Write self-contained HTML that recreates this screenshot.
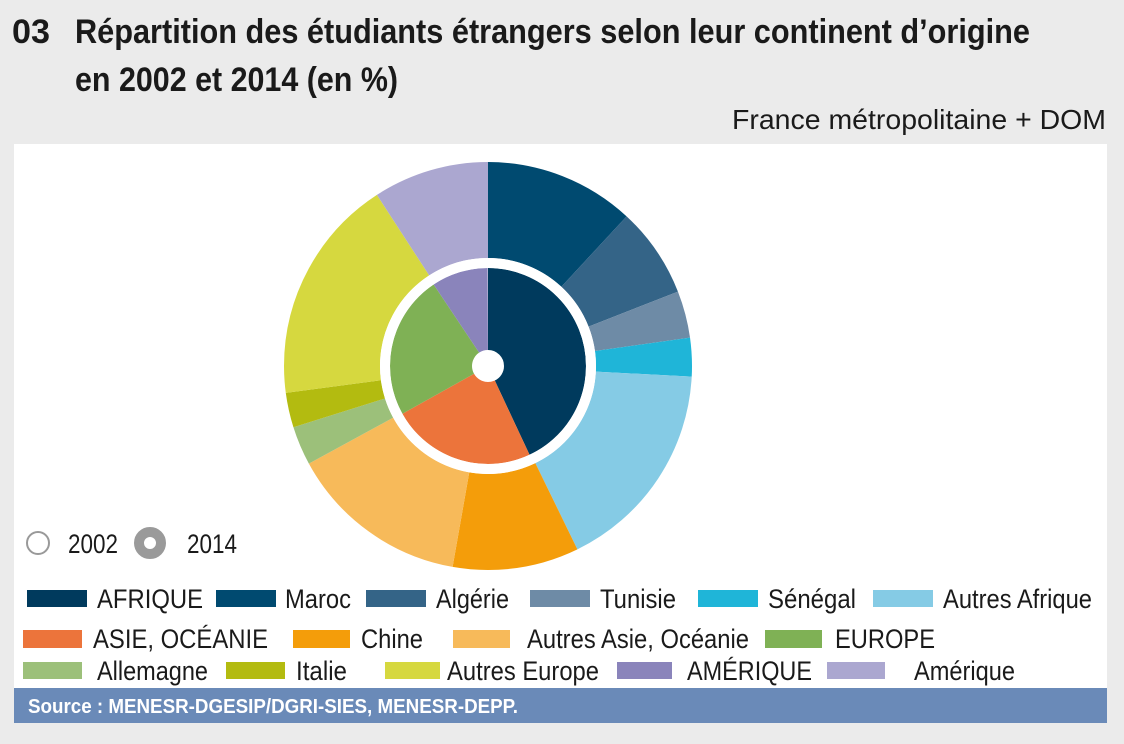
<!DOCTYPE html>
<html><head><meta charset="utf-8"><style>
html,body{margin:0;padding:0;background:#ebebeb;}
svg{display:block;font-family:"Liberation Sans",Arial,sans-serif;}
</style></head><body>
<svg width="1124" height="744" viewBox="0 0 1124 744" xmlns="http://www.w3.org/2000/svg">
<rect width="1124" height="744" fill="#ebebeb"/>
<g font-weight="bold" font-size="34" fill="#1a1a1a">
<text x="12" y="43" textLength="38" lengthAdjust="spacingAndGlyphs">03</text>
<text x="75" y="43" textLength="955" lengthAdjust="spacingAndGlyphs">Répartition des étudiants étrangers selon leur continent d’origine</text>
<text x="75" y="91" textLength="323" lengthAdjust="spacingAndGlyphs">en 2002 et 2014 (en %)</text>
</g>
<text x="732" y="129" font-size="28" fill="#1a1a1a" textLength="374" lengthAdjust="spacingAndGlyphs">France métropolitaine + DOM</text>
<rect x="14" y="144" width="1093" height="545" fill="#ffffff"/>
<g transform="rotate(-90 488 366)" fill="none">
<g stroke-width="96">
<circle cx="488" cy="366" r="156" pathLength="360" stroke="#004a70" stroke-dasharray="42.8 400" stroke-dashoffset="0"/>
<circle cx="488" cy="366" r="156" pathLength="360" stroke="#346487" stroke-dasharray="25.8 400" stroke-dashoffset="-42.8"/>
<circle cx="488" cy="366" r="156" pathLength="360" stroke="#6e8ba6" stroke-dasharray="13.4 400" stroke-dashoffset="-68.6"/>
<circle cx="488" cy="366" r="156" pathLength="360" stroke="#1fb5d8" stroke-dasharray="11 400" stroke-dashoffset="-82"/>
<circle cx="488" cy="366" r="156" pathLength="360" stroke="#85cbe5" stroke-dasharray="61 400" stroke-dashoffset="-93"/>
<circle cx="488" cy="366" r="156" pathLength="360" stroke="#f49d0a" stroke-dasharray="36 400" stroke-dashoffset="-154"/>
<circle cx="488" cy="366" r="156" pathLength="360" stroke="#f7ba5a" stroke-dasharray="51.4 400" stroke-dashoffset="-190"/>
<circle cx="488" cy="366" r="156" pathLength="360" stroke="#9cc07a" stroke-dasharray="11.1 400" stroke-dashoffset="-241.4"/>
<circle cx="488" cy="366" r="156" pathLength="360" stroke="#b3bb10" stroke-dasharray="9.9 400" stroke-dashoffset="-252.5"/>
<circle cx="488" cy="366" r="156" pathLength="360" stroke="#d6d83f" stroke-dasharray="64.6 400" stroke-dashoffset="-262.4"/>
<circle cx="488" cy="366" r="156" pathLength="360" stroke="#aba7d0" stroke-dasharray="33 400" stroke-dashoffset="-327"/>
</g>
<g stroke-width="82">
<circle cx="488" cy="366" r="57" pathLength="360" stroke="#003a5d" stroke-dasharray="155 400" stroke-dashoffset="0"/>
<circle cx="488" cy="366" r="57" pathLength="360" stroke="#ec743b" stroke-dasharray="86 400" stroke-dashoffset="-155"/>
<circle cx="488" cy="366" r="57" pathLength="360" stroke="#7fb155" stroke-dasharray="85.5 400" stroke-dashoffset="-241"/>
<circle cx="488" cy="366" r="57" pathLength="360" stroke="#8a84bb" stroke-dasharray="33.5 400" stroke-dashoffset="-326.5"/>
</g>
</g>
<circle cx="488" cy="366" r="103" fill="none" stroke="#fff" stroke-width="10"/>
<circle cx="38" cy="543" r="11" fill="#fff" stroke="#999" stroke-width="2"/>
<circle cx="150" cy="543" r="11" fill="none" stroke="#9a9a9a" stroke-width="10"/>
<g font-size="27" fill="#1a1a1a">
<text x="68" y="553" textLength="50" lengthAdjust="spacingAndGlyphs">2002</text>
<text x="187" y="553" textLength="50" lengthAdjust="spacingAndGlyphs">2014</text>
</g>
<g>
<rect x="27" y="590" width="60" height="17" fill="#003a5d"/>
<rect x="216" y="590" width="60" height="17" fill="#004a70"/>
<rect x="366" y="590" width="60" height="17" fill="#346487"/>
<rect x="530" y="590" width="60" height="17" fill="#6e8ba6"/>
<rect x="698" y="590" width="60" height="17" fill="#1fb5d8"/>
<rect x="873" y="590" width="60" height="17" fill="#85cbe5"/>
<rect x="23" y="630" width="59" height="18" fill="#ec743b"/>
<rect x="293" y="630" width="57" height="18" fill="#f49d0a"/>
<rect x="453" y="630" width="57" height="18" fill="#f7ba5a"/>
<rect x="765" y="630" width="57" height="18" fill="#7fb155"/>
<rect x="23" y="662" width="59" height="17" fill="#9cc07a"/>
<rect x="226" y="662" width="59" height="17" fill="#b3bb10"/>
<rect x="385" y="662" width="55" height="17" fill="#d6d83f"/>
<rect x="617" y="662" width="55" height="17" fill="#8a84bb"/>
<rect x="827" y="662" width="58" height="17" fill="#aba7d0"/>
</g>
<g font-size="27" fill="#1a1a1a">
<text x="97" y="608" textLength="106" lengthAdjust="spacingAndGlyphs">AFRIQUE</text>
<text x="285" y="608" textLength="66" lengthAdjust="spacingAndGlyphs">Maroc</text>
<text x="436" y="608" textLength="73" lengthAdjust="spacingAndGlyphs">Algérie</text>
<text x="600" y="608" textLength="76" lengthAdjust="spacingAndGlyphs">Tunisie</text>
<text x="768" y="608" textLength="88" lengthAdjust="spacingAndGlyphs">Sénégal</text>
<text x="943" y="608" textLength="149" lengthAdjust="spacingAndGlyphs">Autres Afrique</text>
<text x="93" y="648" textLength="175" lengthAdjust="spacingAndGlyphs">ASIE, OCÉANIE</text>
<text x="361" y="648" textLength="62" lengthAdjust="spacingAndGlyphs">Chine</text>
<text x="527" y="648" textLength="222" lengthAdjust="spacingAndGlyphs">Autres Asie, Océanie</text>
<text x="835" y="648" textLength="100" lengthAdjust="spacingAndGlyphs">EUROPE</text>
<text x="97" y="680" textLength="111" lengthAdjust="spacingAndGlyphs">Allemagne</text>
<text x="296" y="680" textLength="51" lengthAdjust="spacingAndGlyphs">Italie</text>
<text x="447" y="680" textLength="152" lengthAdjust="spacingAndGlyphs">Autres Europe</text>
<text x="687" y="680" textLength="125" lengthAdjust="spacingAndGlyphs">AMÉRIQUE</text>
<text x="914" y="680" textLength="101" lengthAdjust="spacingAndGlyphs">Amérique</text>
</g>
<rect x="14" y="688" width="1093" height="35" fill="#6a8ab8"/>
<text x="28" y="713" font-size="20" font-weight="bold" fill="#ffffff" textLength="490" lengthAdjust="spacingAndGlyphs">Source : MENESR-DGESIP/DGRI-SIES, MENESR-DEPP.</text>
</svg>
</body></html>
